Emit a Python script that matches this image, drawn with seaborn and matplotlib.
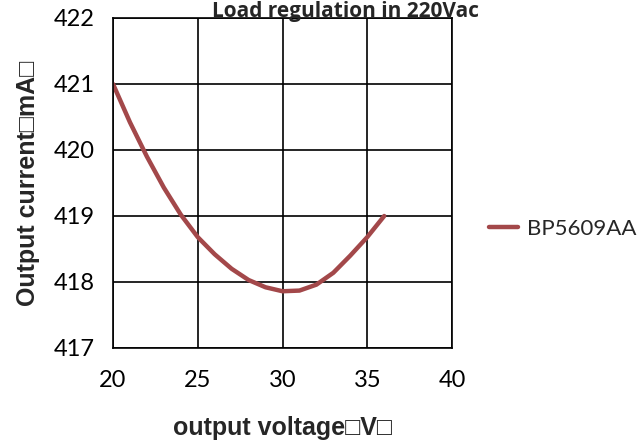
import pandas as pd
import matplotlib.pyplot as plt
import seaborn as sns

# values
voltage = [20, 21, 22, 23, 24, 25, 26, 27, 28, 29, 30, 31, 32, 33, 34, 35, 36]
current = [421.0, 420.42, 419.9, 419.43, 419.02, 418.68, 418.42, 418.2, 418.03,
           417.92, 417.86, 417.87, 417.96, 418.14, 418.4, 418.68, 419.0]
series_name = "BP5609AA"
x_ticks = [20, 25, 30, 35, 40]
y_ticks = [417, 418, 419, 420, 421, 422]

sns.set_style("white")
plt.rcParams['font.family'] = ['Lato', 'DejaVu Sans']

df = pd.DataFrame({"voltage": voltage, "current": current, "series": series_name})

fig = plt.figure(figsize=(6.38, 4.41), dpi=100)
ax = fig.add_axes([113 / 638, 1 - 348 / 441, (452 - 113) / 638, (348 - 18) / 441])

sns.lineplot(data=df, x="voltage", y="current", hue="series",
             palette=["#A3484A"], linewidth=3.2, ax=ax)

ax.set_xlim(20, 40)
ax.set_ylim(417, 422)
ax.set_xticks(x_ticks)
ax.set_yticks(y_ticks)
ax.grid(True, color="black", linewidth=1.2)
for s in ax.spines.values():
    s.set_color("black")
    s.set_linewidth(1.2)
ax.tick_params(length=0, labelsize=17, pad=13, colors="black")
ax.tick_params(axis="x", pad=16)

bold = dict(family=['Liberation Sans', 'DejaVu Sans'], fontweight="bold", fontsize=18)
ax.set_xlabel("output voltage\u25a1V\u25a1", labelpad=18, **bold)
ax.set_ylabel("Output current\u25a1mA\u25a1", labelpad=10, **bold)
fig.text(345 / 638, 1 - 1 / 441, "Load regulation in 220Vac", ha="center",
         va="top", fontsize=15, fontweight="bold", family=['Open Sans', 'DejaVu Sans'])

ax.legend(loc="center left", bbox_to_anchor=(1.05, 0.36), frameon=False,
          fontsize=16, handlelength=1.3, handletextpad=0.4)

fig.savefig("out.png", dpi=100)
